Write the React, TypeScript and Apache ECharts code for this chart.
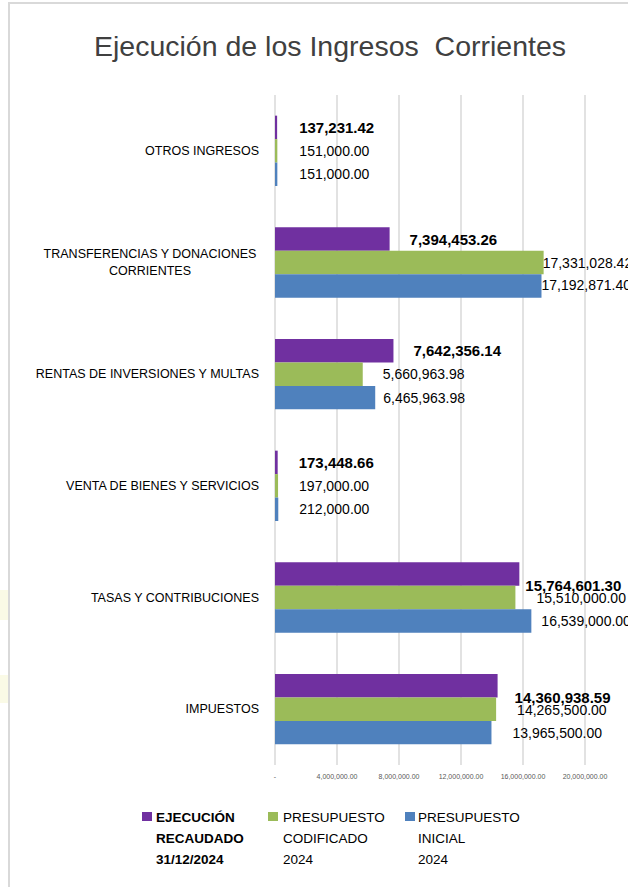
import React, { useEffect, useRef } from "react";
import * as echarts from "echarts";

const titleText = "Ejecución de los Ingresos  Corrientes";

const categories = [
  "OTROS INGRESOS",
  "TRANSFERENCIAS Y DONACIONES\nCORRIENTES",
  "RENTAS DE INVERSIONES Y MULTAS",
  "VENTA DE BIENES Y SERVICIOS",
  "TASAS Y CONTRIBUCIONES",
  "IMPUESTOS",
];

const seriesNames = [
  "EJECUCIÓN\nRECAUDADO\n31/12/2024",
  "PRESUPUESTO\nCODIFICADO\n2024",
  "PRESUPUESTO\nINICIAL\n2024",
];

const ejecucion = [137231.42, 7394453.26, 7642356.14, 173448.66, 15764601.3, 14360938.59];
const codificado = [151000.0, 17331028.42, 5660963.98, 197000.0, 15510000.0, 14265500.0];
const inicial = [151000.0, 17192871.4, 6465963.98, 212000.0, 16539000.0, 13965500.0];

const xTicks = { min: 0, max: 24000000, interval: 4000000 };

// layout tweaks: label nudges [dx, dy] per bar (as placed in the original)
const nudgeEjec = [[22, 0], [20, 0], [20, 0], [21, 0], [6, 11], [17, 12]];
const nudgeCod = [[22, 0], [-1, 0], [20, 0], [21, 0], [21, 0], [21, 1]];
const nudgeIni = [[22, 0], [0, -1], [8, 0], [21, 0], [10, 0], [21, 0]];

const colors = ["#7030A0", "#9BBB59", "#4F81BD"];

const fmt = (v: number) =>
  v.toLocaleString("en-US", { minimumFractionDigits: 2, maximumFractionDigits: 2 });

const FONT = "'Liberation Sans', Arial, sans-serif";

function buildSeries(name: string, values: number[], nudges: number[][], color: string, bold: boolean) {
  return {
    name,
    type: "bar",
    barGap: "0%",
    barCategoryGap: "37%",
    itemStyle: { color },
    data: values.map((v, i) => ({
      value: v,
      label: { offset: nudges[i] },
    })),
    label: {
      show: true,
      position: "right",
      distance: 0,
      fontFamily: FONT,
      fontSize: bold ? 15 : 14,
      fontWeight: bold ? "bold" : "normal",
      color: "#000",
      formatter: (p: any) => fmt(p.value),
    },
  };
}

export default function App() {
  const ref = useRef<HTMLDivElement>(null);

  useEffect(() => {
    if (!ref.current) return;
    const chart = echarts.init(ref.current, null, { renderer: "svg" });

    const legendX = [142, 268, 405];
    const legendTextX = [156, 283, 418];

    const legendGraphics: any[] = [];
    seriesNames.forEach((n, i) => {
      legendGraphics.push({
        type: "rect",
        shape: { x: legendX[i], y: 812, width: 10, height: 9 },
        style: { fill: colors[i] },
      });
      legendGraphics.push({
        type: "text",
        x: legendTextX[i],
        y: 807,
        style: {
          text: n,
          fontFamily: FONT,
          fontSize: 13.5,
          fontWeight: i === 0 ? "bold" : "normal",
          lineHeight: 21,
          fill: "#000",
          verticalAlign: "top",
          align: "left",
        },
      });
    });

    const option: any = {
      animation: false,
      backgroundColor: "#fff",
      title: {
        text: titleText,
        left: 325,
        textAlign: "center",
        top: 26,
        textStyle: {
          fontFamily: FONT,
          fontSize: 28.5,
          fontWeight: "normal",
          color: "#404040",
        },
      },
      legend: { show: false },
      grid: {
        left: 275,
        top: 95,
        width: 372,
        height: 670,
        containLabel: false,
        outerBoundsMode: "none",
      },
      xAxis: {
        type: "value",
        min: xTicks.min,
        max: xTicks.max,
        interval: xTicks.interval,
        axisLine: { show: false },
        axisTick: { show: false },
        splitLine: { show: true, lineStyle: { color: "#D9D9D9", width: 1.5 } },
        axisLabel: {
          fontFamily: FONT,
          fontSize: 7,
          color: "#595959",
          margin: 8,
          showMaxLabel: false,
          formatter: (v: number) => (v === 0 ? "-" : fmt(v)),
        },
      },
      yAxis: {
        type: "category",
        inverse: true,
        data: categories,
        axisLine: { show: false },
        axisTick: { show: false },
        axisLabel: {
          fontFamily: FONT,
          fontSize: 12.5,
          color: "#000",
          margin: 16,
          lineHeight: 17,
          formatter: (v: string) =>
            v.indexOf("\n") >= 0 ? "{c|" + v + "}" : v,
          rich: {
            c: {
              width: 218,
              align: "center",
              fontFamily: FONT,
              fontSize: 12.5,
              lineHeight: 17,
              color: "#000",
            },
          },
        },
      },
      series: [
        buildSeries(seriesNames[0], ejecucion, nudgeEjec, colors[0], true),
        buildSeries(seriesNames[1], codificado, nudgeCod, colors[1], false),
        buildSeries(seriesNames[2], inicial, nudgeIni, colors[2], false),
      ],
      graphic: [
        { type: "rect", shape: { x: 0, y: 590, width: 8, height: 30 }, style: { fill: "#FAFAE6" } },
        { type: "rect", shape: { x: 0, y: 675, width: 8, height: 28 }, style: { fill: "#FAFAE6" } },
        ...legendGraphics,
      ],
    };

    chart.setOption(option);
    return () => chart.dispose();
  }, []);

  return (
    <div
      style={{
        position: "fixed",
        left: 0,
        top: 0,
        width: 628,
        height: 887,
        overflow: "hidden",
        background: "#fff",
      }}
    >
      <div
        ref={ref}
        style={{ position: "absolute", left: 0, top: 0, width: 680, height: 887 }}
      />
      <div
        style={{
          position: "absolute",
          left: 8,
          top: 2,
          width: 700,
          height: 900,
          border: "2px solid #D9D9D9",
          pointerEvents: "none",
        }}
      />
    </div>
  );
}
